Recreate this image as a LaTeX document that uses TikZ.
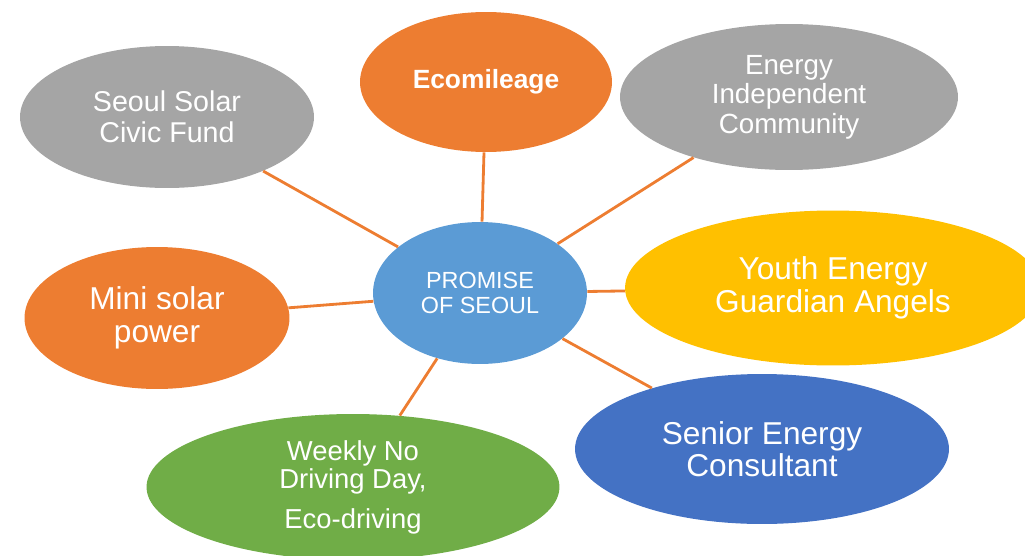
\documentclass[tikz,border=0pt]{standalone}
\usepackage{fontspec}
\setmainfont{Liberation Sans}
\usepackage{tikz}
\usetikzlibrary{shapes, positioning}

\definecolor{ppOrange}{HTML}{ED7D31}
\definecolor{ppGray}{HTML}{A5A5A5}
\definecolor{ppYellow}{HTML}{FFC000}
\definecolor{ppBlue}{HTML}{4472C4}
\definecolor{ppSky}{HTML}{5B9BD5}
\definecolor{ppGreen}{HTML}{70AD47}

\newcommand{\fsz}[2]{\fontsize{#1}{#2}\selectfont}

\begin{document}
\begin{tikzpicture}
            [x=0.02cm, y=-0.02cm,
            bubble/.style={ellipse, align=center, inner sep=0pt, text=white},
            link/.style={draw=ppOrange, line width=1.6pt}]

            \clip (0,0) rectangle (1025,555);

            \node[bubble, fill=ppSky, minimum width=4.28cm, minimum height=2.84cm, font=\fsz{13.3}{14.2}] (hub) at (480,293) {PROMISE\\OF SEOUL};
            \node[bubble, fill=ppOrange, minimum width=5.04cm, minimum height=2.8cm, font=\fsz{15}{16}\bfseries] (eco) at (486,82) {Ecomileage};
            \node[bubble, fill=ppGray, minimum width=5.88cm, minimum height=2.84cm, font=\fsz{16.3}{17.6}] (fund) at (167,117) {Seoul Solar\\Civic Fund};
            \node[bubble, fill=ppGray, minimum width=6.76cm, minimum height=2.92cm, font=\fsz{15.8}{16.7}] (indep) at (789,97) {Energy\\Independent\\Community};
            \node[bubble, fill=ppYellow, minimum width=8.32cm, minimum height=3.1cm, font=\fsz{18}{18.5}] (youth) at (833,288) {Youth Energy\\Guardian Angels};
            \node[bubble, fill=ppOrange, minimum width=5.3cm, minimum height=2.84cm, font=\fsz{18}{18.5}] (mini) at (157,318) {Mini solar\\power};
            \node[bubble, fill=ppGreen, minimum width=8.26cm, minimum height=2.92cm, font=\fsz{15.6}{16.4}] (weekly) at (353,487) {Weekly No\\Driving Day,\\[6pt]Eco-driving};
            \node[bubble, fill=ppBlue, minimum width=7.48cm, minimum height=3.0cm, font=\fsz{18}{18.5}] (senior) at (762,449) {Senior Energy\\Consultant};

            \draw[link] (hub) edge (eco);
            \draw[link] (hub) edge (fund);
            \draw[link] (hub) edge (indep);
            \draw[link] (hub) edge (youth);
            \draw[link] (hub) edge (senior);
            \draw[link] (hub) edge (weekly);
            \draw[link] (hub) edge (mini);
        \end{tikzpicture}
\end{document}
